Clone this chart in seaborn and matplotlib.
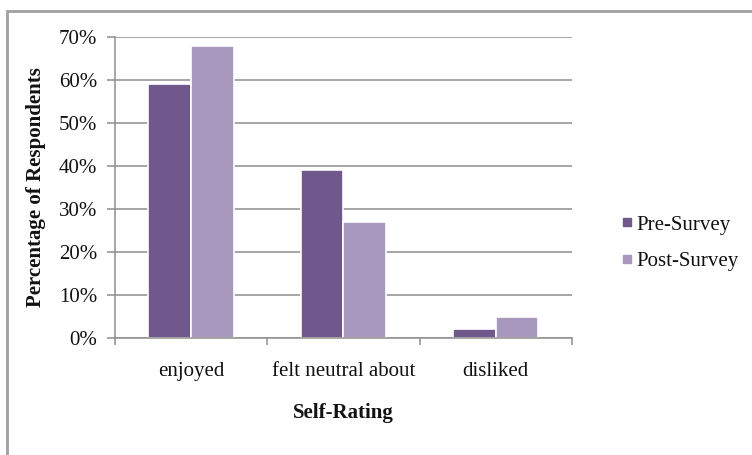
import matplotlib
matplotlib.use("Agg")
import matplotlib.pyplot as plt
from matplotlib.patches import Rectangle
from matplotlib.lines import Line2D
from matplotlib.ticker import FixedLocator
import seaborn as sns
import pandas as pd

categories = ["enjoyed", "felt neutral about", "disliked"]
series = ["Pre-Survey", "Post-Survey"]
pre_values = [59, 39, 2]
post_values = [68, 27, 5]
y_ticks = [0, 10, 20, 30, 40, 50, 60, 70]
colors = ["#70578c", "#a898be"]

df = pd.DataFrame({
    "rating": categories * 2,
    "survey": [series[0]] * 3 + [series[1]] * 3,
    "pct": pre_values + post_values,
})

sns.set_theme(style="white")
plt.rcParams["font.family"] = ["Liberation Serif", "DejaVu Serif"]

fig = plt.figure(figsize=(7.52, 4.55), dpi=100)
ax = fig.add_axes([0.1529, 0.2571, 0.6077, 0.6616])

sns.barplot(data=df, x="rating", y="pct", hue="survey", order=categories,
            hue_order=series, palette=colors, width=0.56, ax=ax,
            edgecolor="white", linewidth=1.2, saturation=1, legend=False)

grid_c = "#8e8e8e"
text_c = "#111111"
fs = 15
ax.set_ylim(0, 70)
ax.set_xlim(-0.5, 2.5)
ax.yaxis.set_major_locator(FixedLocator(y_ticks))
ax.set_yticklabels([f"{v}%" for v in y_ticks])
ax.yaxis.grid(True, color=grid_c, linewidth=1.1)
ax.set_axisbelow(True)
for s in ["top", "right"]:
    ax.spines[s].set_visible(False)
for s in ["left", "bottom"]:
    ax.spines[s].set_color(grid_c)
    ax.spines[s].set_linewidth(1.1)

ax.xaxis.set_minor_locator(FixedLocator([-0.5, 0.5, 1.5, 2.5]))
ax.tick_params(axis="x", which="major", length=0, pad=17, labelsize=fs,
               labelcolor=text_c)
ax.tick_params(axis="x", which="minor", length=5, width=1.1, color=grid_c,
               direction="out", bottom=True)
ax.tick_params(axis="y", which="major", length=6, width=1.1, color=grid_c,
               direction="out", left=True, labelsize=fs, labelcolor=text_c, pad=7)

ax.set_xlabel("Self-Rating", fontsize=fs, fontweight="bold", labelpad=16,
              color=text_c)
ax.set_ylabel("Percentage of Respondents", fontsize=fs, fontweight="bold",
              labelpad=9, color=text_c)

handles = [Line2D([0], [0], marker="s", linestyle="", markersize=6,
                  markerfacecolor=c, markeredgecolor=c) for c in colors]
fig.legend(handles, series, loc="center left", bbox_to_anchor=(0.80, 0.466),
           frameon=False, fontsize=fs, handlelength=0.6, handletextpad=0.15,
           labelspacing=0.8, labelcolor=text_c)

# outer chart frame
fig.add_artist(Rectangle((7 / 752, -0.1), 2.0, 1.1 - 11 / 455,
                         transform=fig.transFigure, fill=False,
                         edgecolor="#a0a0a0", linewidth=2))

fig.savefig("out.png", dpi=100, facecolor="white")
